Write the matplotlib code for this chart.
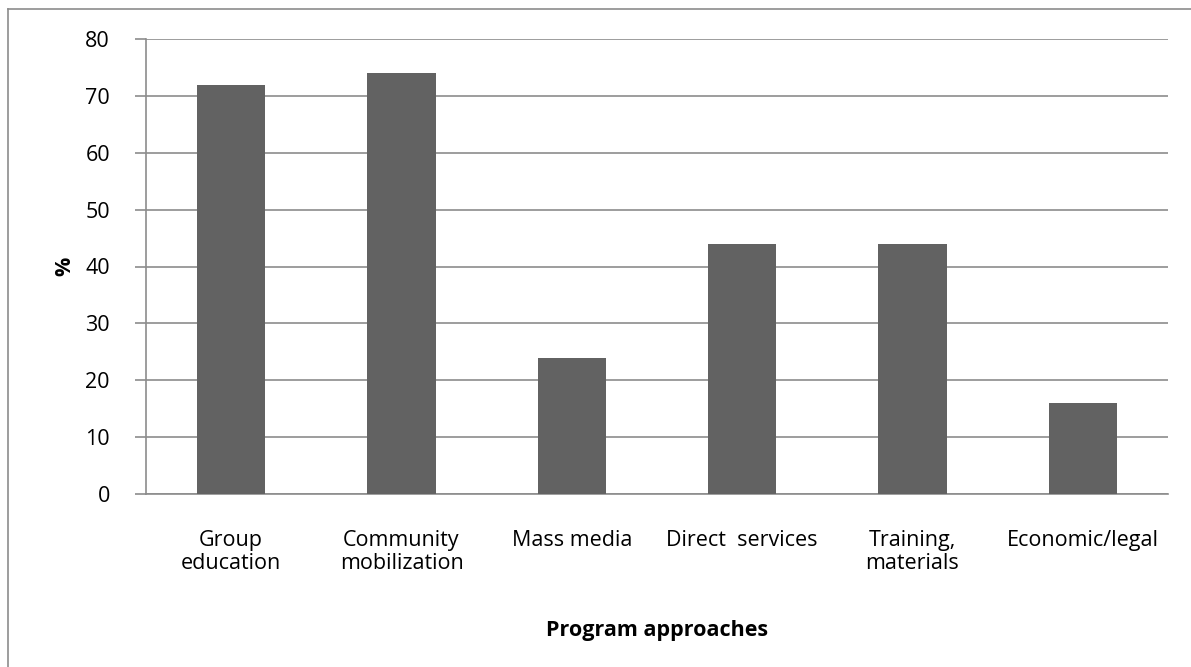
import matplotlib
matplotlib.use("Agg")
import matplotlib.pyplot as plt
from matplotlib.lines import Line2D

categories = ["Group\neducation", "Community\nmobilization", "Mass media",
              "Direct  services", "Training,\nmaterials", "Economic/legal"]
values = [72, 74, 24, 44, 44, 16]
yticks = [0, 10, 20, 30, 40, 50, 60, 70, 80]

plt.rcParams['font.family'] = ['Open Sans', 'DejaVu Sans']

fig = plt.figure(figsize=(11.91, 6.67), dpi=100)
ax = fig.add_axes([146/1191, 1-494/667, (1168-146)/1191, (494-39)/667])

x = list(range(len(categories)))
ax.bar(x, values, width=0.4, color="#626262", zorder=3)
ax.set_xlim(-0.5, len(categories) - 0.5)
ax.set_ylim(0, 80)
ax.set_yticks(yticks)
ax.set_yticklabels([str(v) for v in yticks], fontsize=15.5)
ax.set_xticks(x)
ax.set_xticklabels(categories, fontsize=15.5, linespacing=1.1)
ax.tick_params(axis='x', length=0, pad=26)
ax.tick_params(axis='y', length=8, width=1.2, color="#8c8c8c", pad=18)
ax.yaxis.grid(True, color="#8c8c8c", linewidth=1.2, zorder=0)
for s in ['top', 'right']:
    ax.spines[s].set_visible(False)
for s in ['left', 'bottom']:
    ax.spines[s].set_color("#8c8c8c")
    ax.spines[s].set_linewidth(1.2)
ax.set_axisbelow(True)

ax.set_ylabel("%", fontsize=15.5, fontweight='bold', labelpad=7)
ax.set_xlabel("Program approaches", fontsize=15.5, fontweight='bold', labelpad=33)

# figure border (left and top visible)
fig.add_artist(Line2D([8/1191, 8/1191], [0, 1-9/667], transform=fig.transFigure, color="#8c8c8c", linewidth=1.2))
fig.add_artist(Line2D([8/1191, 1], [1-9/667, 1-9/667], transform=fig.transFigure, color="#8c8c8c", linewidth=1.2))

fig.savefig("out.png", dpi=100)
